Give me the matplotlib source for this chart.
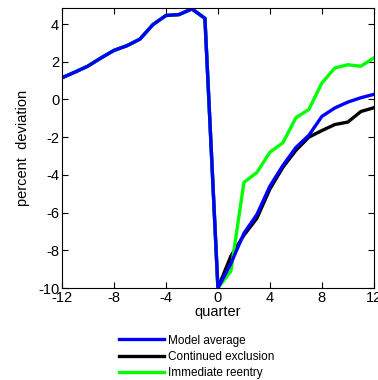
import numpy as np
import matplotlib
matplotlib.use("Agg")
import matplotlib.pyplot as plt
from matplotlib.lines import Line2D

plt.rcParams["font.family"] = ["Liberation Sans", "DejaVu Sans"]
plt.rcParams["axes.unicode_minus"] = False

quarters = list(range(-12, 13))
pre = [1.15, 1.45, 1.77, 2.2, 2.6, 2.85, 3.2, 3.97, 4.45, 4.5, 4.8, 4.3]
model_avg = pre + [-10, -8.7, -7.1, -6.1, -4.6, -3.5, -2.55, -1.9, -0.9, -0.45, -0.14, 0.09, 0.27]
continued = pre + [-10, -8.3, -7.2, -6.3, -4.75, -3.6, -2.7, -2.0, -1.65, -1.33, -1.2, -0.64, -0.44]
immediate = pre + [-10, -9.1, -4.4, -3.87, -2.8, -2.3, -0.97, -0.53, 0.87, 1.67, 1.84, 1.76, 2.2]

fig = plt.figure(figsize=(3.78, 3.8), dpi=100)
ax = fig.add_axes([0.164, 0.242, 0.825, 0.737])

lw = 2.4
ax.plot(quarters, continued, color="black", lw=lw)
ax.plot(quarters, immediate, color="#00ff00", lw=lw)
ax.plot(quarters, model_avg, color="#0000ff", lw=lw)

ax.set_xlim(-12, 12)
ax.set_ylim(-10, 4.85)
ax.set_xticks([-12, -8, -4, 0, 4, 8, 12])
ax.set_yticks([-10, -8, -6, -4, -2, 0, 2, 4])
ax.tick_params(direction="in", top=True, right=True, labelsize=10.5, length=4, pad=2)
ax.set_xlabel("quarter", fontsize=10.5, labelpad=0)
ax.set_ylabel("percent  deviation", fontsize=10.5, labelpad=6)

handles = [Line2D([], [], color="#0000ff", lw=lw),
           Line2D([], [], color="black", lw=lw),
           Line2D([], [], color="#00ff00", lw=lw)]
labels = ["Model average", "Continued exclusion", "Immediate reentry"]
fig.legend(handles, labels, loc="upper left", bbox_to_anchor=(0.3, 0.135),
           frameon=False, fontsize=8.5, handlelength=3.8, handletextpad=0.3,
           labelspacing=0.35, borderpad=0)

fig.savefig("out.png", dpi=100)
